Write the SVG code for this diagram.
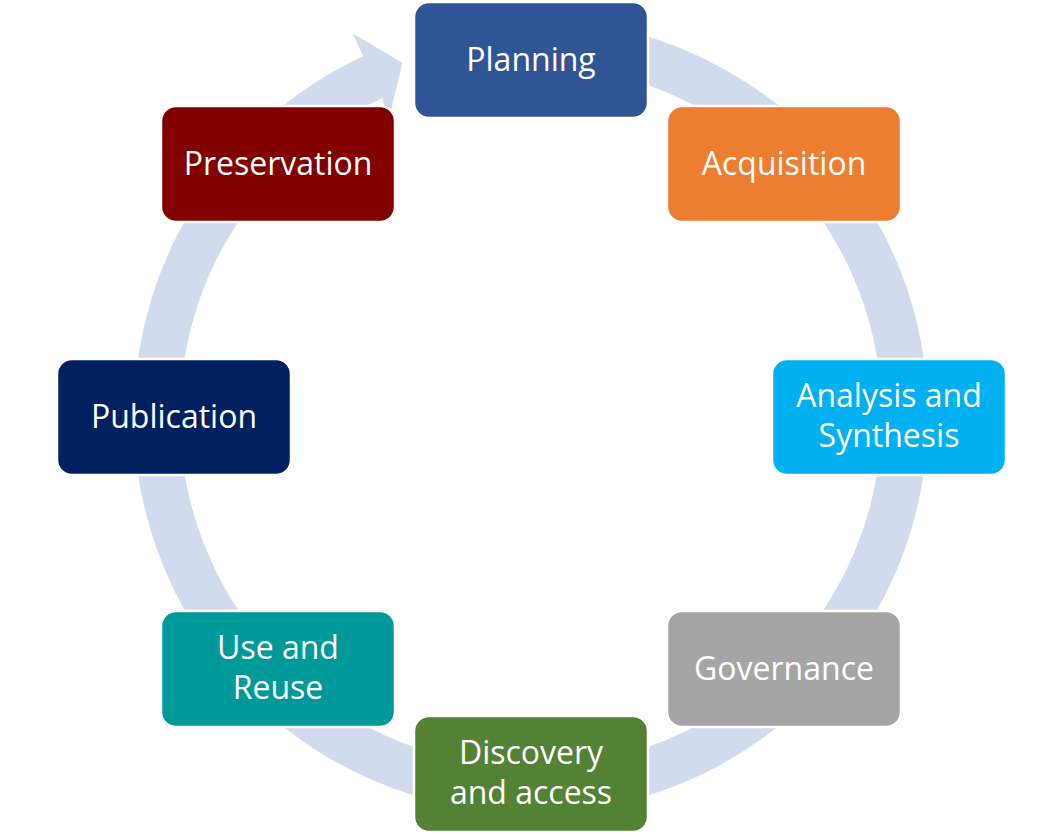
<svg xmlns="http://www.w3.org/2000/svg" width="1062" height="839" viewBox="0 0 1062 839">
<style>
.node rect{stroke:#ffffff;stroke-width:2.5}
.node text{font-family:"Open Sans","Liberation Sans",sans-serif;font-size:32px;fill:#ffffff;text-anchor:middle}
.ring{fill:none;stroke:#D0DBEE;stroke-width:46;stroke-linecap:butt}
</style>
<rect width="1062" height="839" fill="#ffffff"/>
<g id="connectors">
<path class="ring" d="M544.1,42.2 A374,374 0 1 1 374.3,76.3"/>
<polygon points="352.7,33.5 402.4,62.7 388.1,123 382,96 364,58" fill="#D0DBEE"/>
</g>
<g id="planning" class="node"><rect x="414" y="2" width="234" height="116" rx="15" fill="#2F5597"/><text x="531" y="71">Planning</text></g>
<g id="acquisition" class="node"><rect x="667" y="106" width="234" height="116" rx="15" fill="#ED7D31"/><text x="784" y="175">Acquisition</text></g>
<g id="analysis" class="node"><rect x="772" y="359" width="234" height="116" rx="15" fill="#00B0F0"/><text x="889" y="407">Analysis and</text><text x="889" y="447">Synthesis</text></g>
<g id="governance" class="node"><rect x="667" y="611" width="234" height="116" rx="15" fill="#A5A5A5"/><text x="784" y="680">Governance</text></g>
<g id="discovery" class="node"><rect x="414" y="716" width="234" height="116" rx="15" fill="#548235"/><text x="531" y="764">Discovery</text><text x="531" y="804">and access</text></g>
<g id="use" class="node"><rect x="161" y="611" width="234" height="116" rx="15" fill="#00999A"/><text x="278" y="659">Use and</text><text x="278" y="699">Reuse</text></g>
<g id="publication" class="node"><rect x="57" y="359" width="234" height="116" rx="15" fill="#002060"/><text x="174" y="428">Publication</text></g>
<g id="preservation" class="node"><rect x="161" y="106" width="234" height="116" rx="15" fill="#800000"/><text x="278" y="175">Preservation</text></g>
</svg>
